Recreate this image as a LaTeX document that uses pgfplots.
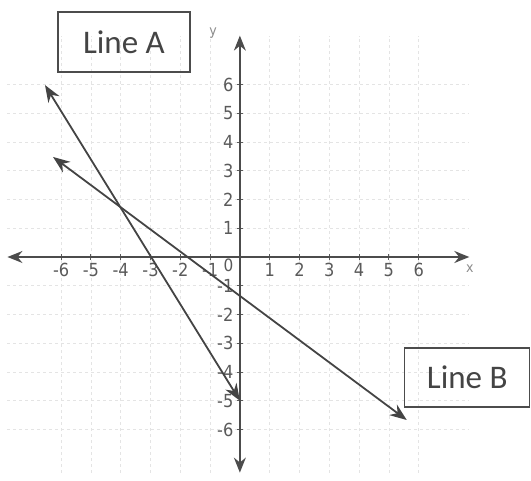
\documentclass[border=0pt]{standalone}
\usepackage{fontspec}
\usepackage{pgfplots}
\pgfplotsset{compat=1.18}
\usetikzlibrary{arrows.meta}
\newfontfamily\tickfont{DejaVu Sans Condensed}
\newfontfamily\boxfont{Carlito}
\definecolor{linecol}{HTML}{444444}
\definecolor{axcol}{HTML}{4C4C4C}
\definecolor{labcol}{HTML}{5A5A5A}
\definecolor{gridcol}{HTML}{E4E4E4}
\begin{document}
\begin{tikzpicture}
\begin{axis}[
  x=29.8bp, y=28.75bp,
  xmin=-7.8, xmax=7.7, ymin=-7.5, ymax=7.7,
  axis lines=middle,
  axis line style={line width=1.5bp, draw=axcol},
  every inner x axis line/.append style={{Stealth[length=15bp,width=12bp]}-{Stealth[length=15bp,width=12bp]}},
  every inner y axis line/.append style={{Stealth[length=15bp,width=12bp]}-{Stealth[length=15bp,width=12bp]}},
  xtick={-6,-5,-4,-3,-2,-1,1,2,3,4,5,6},
  xticklabels={-6,-5,-4,-3,-2,-1,1,2,3,4,5,6},
  ytick={-6,-5,-4,-3,-2,-1,1,2,3,4,5,6},
  yticklabels={-6,-5,-4,-3,-2,-1,1,2,3,4,5,6},
  tick style={draw=labcol, line width=0.9bp},
  major tick length=6bp,
  tick label style={font=\tickfont\fontsize{18bp}{20bp}\selectfont, text=labcol},
  grid=major,
  grid style={dashed, draw=gridcol, line width=0.6bp},
  clip=false,
]
% Line A
\addplot[linecol, line width=1.8bp, {Stealth[length=17bp,width=13bp]}-{Stealth[length=17bp,width=13bp]}]
  coordinates {(-6.54,5.98) (0,-5.0)};
% Line B
\addplot[linecol, line width=1.8bp, {Stealth[length=17bp,width=13bp]}-{Stealth[length=17bp,width=13bp]}]
  coordinates {(-6.27,3.48) (5.6,-5.67)};

\node[text=labcol, font=\tickfont\fontsize{17bp}{19bp}\selectfont] at (axis cs:-0.38,-0.3) {0};
\node[text=labcol!70, font=\tickfont\fontsize{14bp}{16bp}\selectfont] at (axis cs:7.72,-0.42) {x};
\node[text=labcol!70, font=\tickfont\fontsize{14bp}{16bp}\selectfont] at (axis cs:-0.9,7.8) {y};

\node[draw=axcol, line width=1.2bp, minimum width=132bp, minimum height=60bp, inner sep=0pt,
      text=linecol, font=\boxfont\fontsize{33bp}{36bp}\selectfont] at (axis cs:-3.89,7.48) {Line A};
\node[draw=axcol, line width=1.2bp, minimum width=125bp, minimum height=59bp, inner sep=0pt,
      text=linecol, font=\boxfont\fontsize{33bp}{36bp}\selectfont] at (axis cs:7.63,-4.19) {Line B};

\path (axis cs:-8.05,8.94) rectangle (axis cs:9.77,-7.79);
\end{axis}
\end{tikzpicture}
\end{document}
